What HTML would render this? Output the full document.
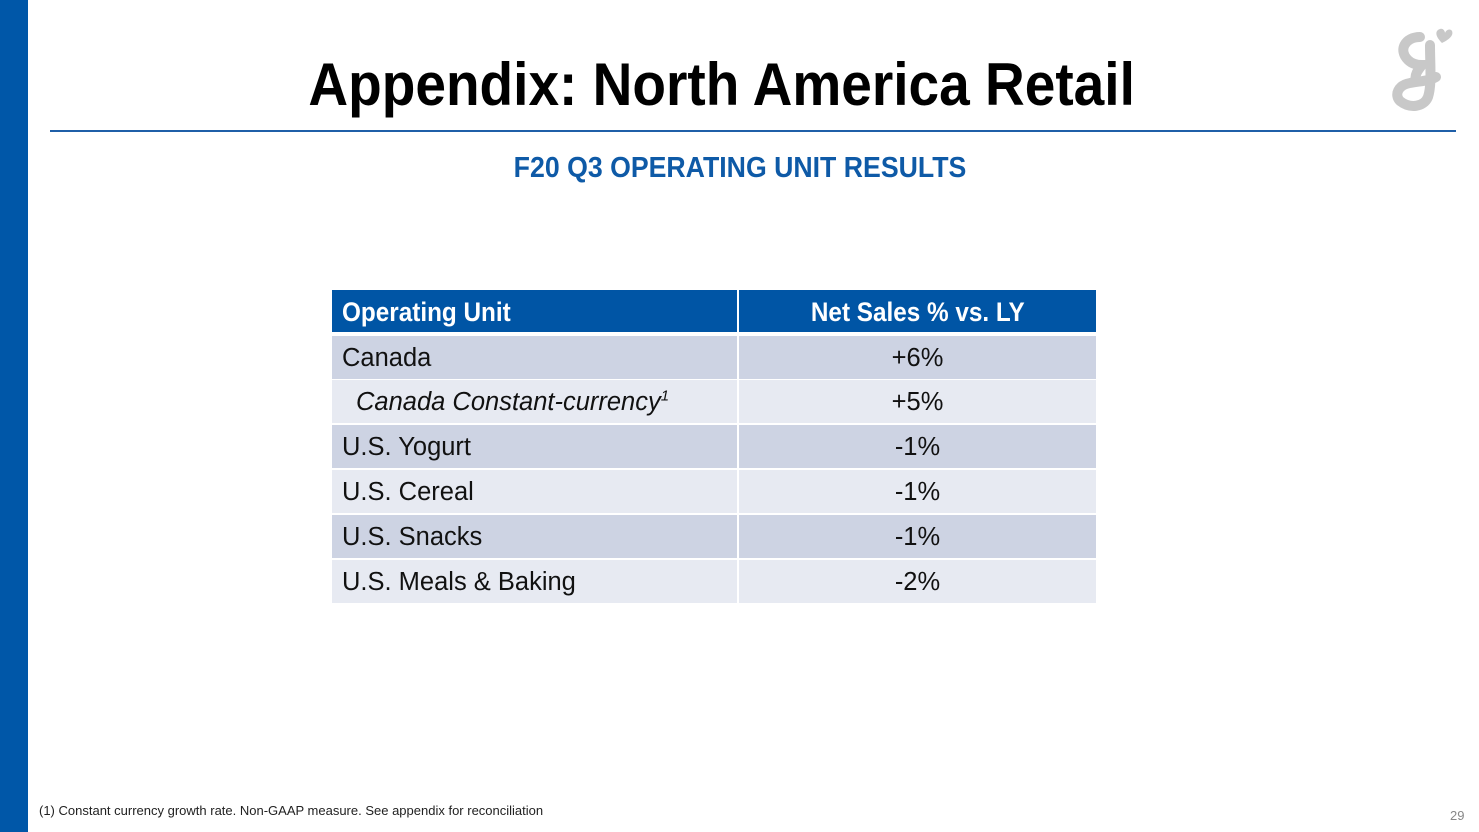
<!DOCTYPE html>
<html><head><style>
body{margin:0;width:1479px;height:832px;background:#fff;position:relative;overflow:hidden;font-family:"Liberation Sans",sans-serif}
.bar{position:absolute;left:0;top:0;width:28px;height:832px;background:#0057a8}
.title{position:absolute;left:0;width:1444px;top:52px;text-align:center;font-weight:bold;font-size:60px;color:#000;line-height:66px}
.title span{display:inline-block;transform:scaleX(0.917)}
.rule{position:absolute;left:50px;top:130px;width:1406px;height:2px;background:#1f5fa8}
.sub{position:absolute;left:0;width:1479px;top:152px;text-align:center;font-weight:bold;font-size:29px;color:#0e5aa7}
.sub span{display:inline-block;transform:scaleX(0.92)}
.row{position:absolute;left:332px;width:764px;height:43px;font-size:25.5px;line-height:45px;color:#111}
.row div{position:absolute;top:0;height:100%;white-space:nowrap}
.c1{left:0;width:405px;padding-left:10px;box-sizing:border-box}
.c2{left:407px;width:357px;text-align:center}
.h div{background:#0055a5;color:#fff;font-weight:bold;font-size:27px;line-height:45px}
.h span{display:inline-block;transform:scaleX(0.9)}
.h .c1 span{transform-origin:left}
.a div{background:#cdd3e3}
.b div{background:#e7eaf2}
.foot{position:absolute;left:39px;top:803px;font-size:13px;color:#222}
.pg{position:absolute;left:1450px;top:808px;font-size:13px;color:#888}
</style></head><body>
<div class="bar"></div>
<div class="title"><span>Appendix: North America Retail</span></div>
<div class="rule"></div>
<div class="sub"><span>F20 Q3 OPERATING UNIT RESULTS</span></div>
<div class="row h" style="top:290px;height:42px"><div class="c1"><span>Operating Unit</span></div><div class="c2"><span>Net Sales % vs. LY</span></div></div>
<div class="row a" style="top:336px"><div class="c1">Canada</div><div class="c2">+6%</div></div>
<div class="row b" style="top:380px"><div class="c1" style="padding-left:24px;font-style:italic">Canada Constant-currency<sup style="font-size:15px;line-height:0">1</sup></div><div class="c2">+5%</div></div>
<div class="row a" style="top:425px"><div class="c1">U.S. Yogurt</div><div class="c2">-1%</div></div>
<div class="row b" style="top:470px"><div class="c1">U.S. Cereal</div><div class="c2">-1%</div></div>
<div class="row a" style="top:515px"><div class="c1">U.S. Snacks</div><div class="c2">-1%</div></div>
<div class="row b" style="top:560px"><div class="c1">U.S. Meals &amp; Baking</div><div class="c2">-2%</div></div>
<svg style="position:absolute;left:1390px;top:25px" width="70" height="90" viewBox="0 0 70 90">
<path d="M52 18 C46 12 44 6 50 4 C53 3 55 6 55 8 C56 5 60 3 62 6 C64 11 58 15 52 18Z" fill="#c8c8c8"/>
<path d="M30 12 C15 12 8 25 18 35 C22 39 28 40 32 40 C28 45 24 50 26 56 M40 20 C40 40 42 60 38 72 C34 82 20 84 10 76 C4 70 8 60 20 58 C30 56 40 56 46 52" stroke="#c8c8c8" stroke-width="10" fill="none" stroke-linecap="round"/>
</svg>
<div class="foot">(1) Constant currency growth rate. Non-GAAP measure. See appendix for reconciliation</div>
<div class="pg">29</div>
</body></html>
